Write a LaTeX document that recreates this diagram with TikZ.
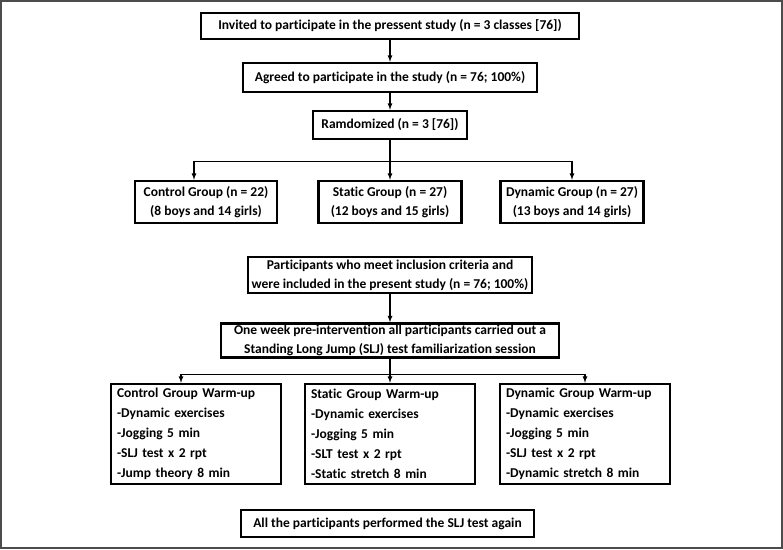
\documentclass[tikz,border=0pt]{standalone}
\usepackage{fontspec}
\setmainfont{Carlito}[Ligatures=NoCommon]
\usetikzlibrary{calc}

\begin{document}
\begin{tikzpicture}[x=1pt, y=-1pt, >=latex,
    box/.style={draw, line width=2.4pt, align=center, inner sep=0pt,
      font=\bfseries\fontsize{13.5}{19}\selectfont},
    listbox/.style={box, align=left, inner xsep=6pt, text width=#1,
      font=\bfseries\fontsize{13.5}{20}\selectfont},
    link/.style={line width=1.2pt}]
    % outer frame
    \useasboundingbox (0,0) rectangle (783,549);
    \draw[line width=1.6pt, black!70] (0.8,0.8) rectangle (782.2,548.2);

    % enrolment
    \node[box, minimum width=378, minimum height=26] (invited) at (390,26)
        {Invited to participate in the pressent study (n = 3 classes [76])};
    \node[box, minimum width=294, minimum height=29] (agreed) at (390,77.5)
        {Agreed to participate in the study (n = 76; 100\%)};
    \node[box, minimum width=154, minimum height=28] (rand) at (390,125)
        {Ramdomized (n = 3 [76])};

    % groups
    \node[box, minimum width=142, minimum height=42] (ctrl) at (206,202)
        {Control Group (n = 22)\\(8 boys and 14 girls)};
    \node[box, minimum width=143, minimum height=42] (stat) at (390,202)
        {Static Group (n = 27)\\(12 boys and 15 girls)};
    \node[box, minimum width=143, minimum height=42] (dyn) at (572,202)
        {Dynamic Group (n = 27)\\(13 boys and 14 girls)};

    \draw[link, ->] (invited) -- (agreed);
    \draw[link, ->] (agreed) -- (rand);
    \coordinate (split1) at ($(rand.south)+(0,21)$);
    \draw[link] (rand) -- (split1);
    \draw[link, ->] (split1) -| ([xshift=-12pt]ctrl.north);
    \draw[link, ->] (split1) -- (stat);
    \draw[link, ->] (split1) -| (dyn.north);

    % intervention
    \node[box, minimum width=284, minimum height=36] (incl) at (390,275)
        {Participants who meet inclusion criteria and\\were included in the present study (n = 76; 100\%)};
    \node[box, minimum width=338, minimum height=34] (fam) at (390,340.5)
        {One week pre-intervention all participants carried out a\\Standing Long Jump (SLJ) test familiarization session};
    \draw[link, ->] (incl) -- (fam);

    \node[listbox=158, minimum height=100] (wctrl) at (196,434)
        {Control Group Warm-up\\-Dynamic exercises\\-Jogging 5 min\\-SLJ test x 2 rpt\\-Jump theory 8 min};
    \node[listbox=158, minimum height=100] (wstat) at (390,434)
        {Static Group Warm-up\\-Dynamic exercises\\-Jogging 5 min\\-SLT test x 2 rpt\\-Static stretch 8 min};
    \node[listbox=158, minimum height=100] (wdyn) at (585,434)
        {Dynamic Group Warm-up\\-Dynamic exercises\\-Jogging 5 min\\-SLJ test x 2 rpt\\-Dynamic stretch 8 min};

    \coordinate (split2) at ($(fam.south)+(0,16)$);
    \draw[link] (fam) -- (split2);
    \draw[link, ->] (split2) -| ([xshift=-15pt]wctrl.north);
    \draw[link, ->] (split2) -- (split2 |- wstat.north);
    \draw[link, ->] (split2) -| (wdyn.north);

    % retest
    \node[box, minimum width=293, minimum height=27] (retest) at (387.5,523.5)
        {All the participants performed the SLJ test again};
\end{tikzpicture}
\end{document}
